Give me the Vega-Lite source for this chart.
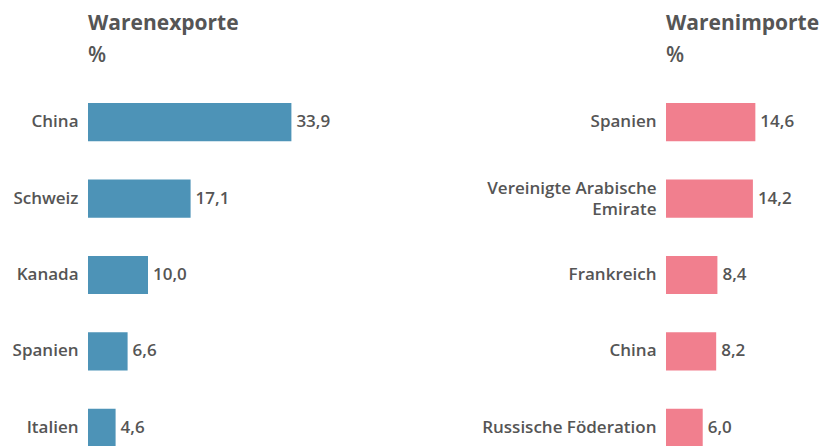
{
  "$schema": "https://vega.github.io/schema/vega-lite/v6.json",
  "padding": {"left": 0, "top": 13, "right": 0, "bottom": 0},
  "autosize": {"type": "pad"},
  "background": "white",
  "config": {
    "locale": {"number": {"decimal": ",", "thousands": ".", "grouping": [3], "currency": ["", " €"]}},
    "view": {"stroke": null},
    "font": "Open Sans",
    "title": {"anchor": "start", "frame": "group", "color": "#555555", "fontSize": 21, "fontWeight": 700, "subtitleFontSize": 21, "subtitleFontWeight": 600, "subtitleColor": "#555555", "subtitlePadding": 11, "offset": 37}
  },
  "datasets": {
    "exports": [
      {"land": "China", "wert": 33.9},
      {"land": "Schweiz", "wert": 17.1},
      {"land": "Kanada", "wert": 10.0},
      {"land": "Spanien", "wert": 6.6},
      {"land": "Italien", "wert": 4.6}
    ],
    "imports": [
      {"land": "Spanien", "wert": 14.6},
      {"land": "Vereinigte Arabische Emirate", "wert": 14.2},
      {"land": "Frankreich", "wert": 8.4},
      {"land": "China", "wert": 8.2},
      {"land": "Russische Föderation", "wert": 6.0}
    ]
  },
  "bounds": "flush",
  "spacing": 338,
  "hconcat": [
    {
      "data": {"name": "exports"},
      "title": {"text": "Warenexporte", "subtitle": "%"},
      "width": 240,
      "height": 344,
      "encoding": {
        "y": {"field": "land", "type": "nominal", "sort": null, "scale": {"paddingInner": 0.5, "paddingOuter": 0},
          "axis": {"title": null, "ticks": false, "domain": false, "labelPadding": 10, "minExtent": 88, "maxExtent": 88, "labelFontSize": 17, "labelFontWeight": 600, "labelColor": "#555555", "labelFont": "Open Sans"}},
        "x": {"field": "wert", "type": "quantitative", "scale": {"domain": [0, 40]}, "axis": null}
      },
      "layer": [
        {"mark": {"type": "bar", "color": "#4d93b7"}},
        {"mark": {"type": "text", "align": "left", "dx": 5, "fontSize": 17, "fontWeight": 600, "color": "#555555"},
          "encoding": {"text": {"field": "wert", "type": "quantitative", "format": ".1f"}}}
      ]
    },
    {
      "data": {"name": "imports"},
      "title": {"text": "Warenimporte", "subtitle": "%"},
      "width": 153,
      "height": 344,
      "encoding": {
        "y": {"field": "land", "type": "nominal", "sort": null, "scale": {"paddingInner": 0.5, "paddingOuter": 0},
          "axis": {"title": null, "ticks": false, "domain": false, "labelPadding": 10, "minExtent": 180, "maxExtent": 180, "labelFontSize": 17, "labelFontWeight": 600, "labelColor": "#555555", "labelFont": "Open Sans", "labelLimit": 300, "labelLineHeight": 21,
            "labelOffset": {"condition": {"test": "datum.value == 'Vereinigte Arabische Emirate'", "value": -10}, "value": 0},
            "labelExpr": "datum.value == 'Vereinigte Arabische Emirate' ? ['Vereinigte Arabische', 'Emirate'] : datum.value"}},
        "x": {"field": "wert", "type": "quantitative", "scale": {"domain": [0, 25]}, "axis": null}
      },
      "layer": [
        {"mark": {"type": "bar", "color": "#f17f8e"}},
        {"mark": {"type": "text", "align": "left", "dx": 5, "fontSize": 17, "fontWeight": 600, "color": "#555555"},
          "encoding": {"text": {"field": "wert", "type": "quantitative", "format": ".1f"}}}
      ]
    }
  ]
}
